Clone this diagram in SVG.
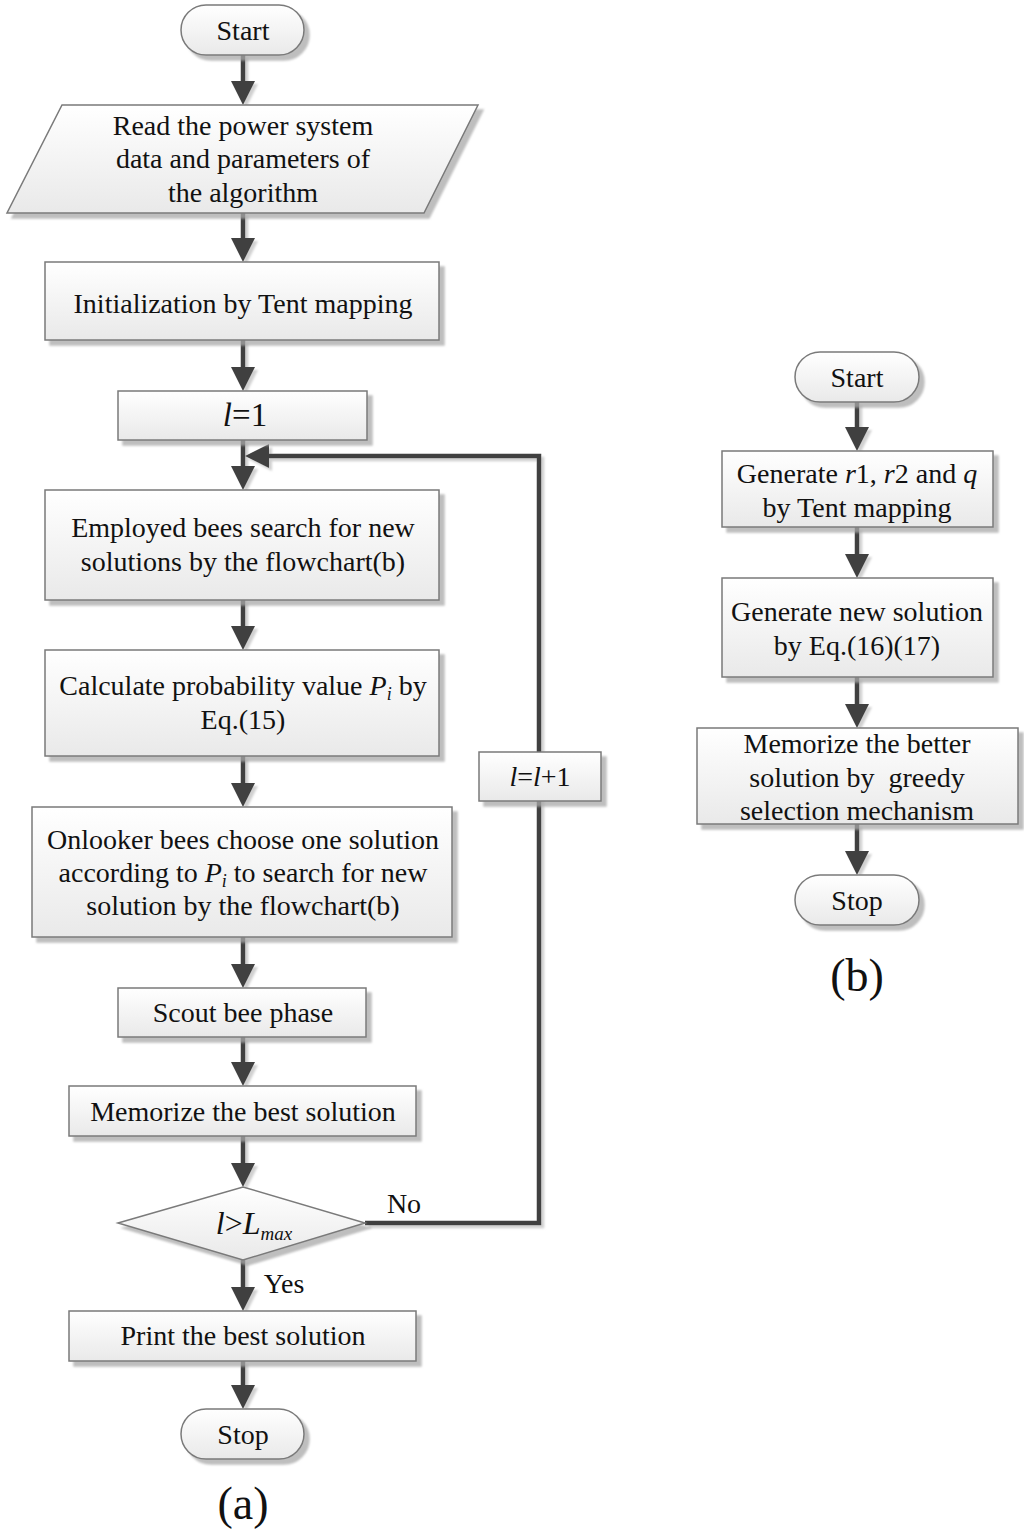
<svg xmlns="http://www.w3.org/2000/svg" width="1024" height="1530" viewBox="0 0 1024 1530">
<defs>
<linearGradient id="g" x1="0" y1="0" x2="0" y2="1">
<stop offset="0" stop-color="#ffffff"/>
<stop offset="1" stop-color="#e9e9e9"/>
</linearGradient>
<filter id="sh" x="-10%" y="-10%" width="130%" height="140%">
<feDropShadow dx="5" dy="5" stdDeviation="1.2" flood-color="#a8a8a8" flood-opacity="0.75"/>
</filter>
<filter id="lsh" x="-10%" y="-10%" width="130%" height="130%">
<feDropShadow dx="3" dy="3" stdDeviation="1" flood-color="#b0b0b0" flood-opacity="0.6"/>
</filter>
<marker id="ah" markerUnits="userSpaceOnUse" markerWidth="26" markerHeight="26" refX="4" refY="12" orient="auto">
<path d="M0,0 L24,12 L0,24 z" fill="#404040"/>
</marker>
</defs>
<style>
.s{fill:url(#g);stroke:#7a7a7a;stroke-width:1.5;filter:url(#sh)}
.t{font-family:"Liberation Serif","Times New Roman",serif;font-size:28px;fill:#111;text-anchor:middle}
.c{fill:none;stroke:#404040;stroke-width:4.5;marker-end:url(#ah)}
.i{font-style:italic}
.cap{font-family:"Liberation Serif","Times New Roman",serif;font-size:46px;fill:#111;text-anchor:middle}
</style>
<rect width="1024" height="1530" fill="#ffffff"/>
<g id="connectors" filter="url(#lsh)">
<line class="c" x1="243" y1="55" x2="243" y2="85"/>
<line class="c" x1="243" y1="213" x2="243" y2="242"/>
<line class="c" x1="243" y1="340" x2="243" y2="371"/>
<line class="c" x1="243" y1="440" x2="243" y2="470"/>
<line class="c" x1="243" y1="600" x2="243" y2="630"/>
<line class="c" x1="243" y1="756" x2="243" y2="787"/>
<line class="c" x1="243" y1="937" x2="243" y2="968"/>
<line class="c" x1="243" y1="1037" x2="243" y2="1066"/>
<line class="c" x1="243" y1="1136" x2="243" y2="1167"/>
<line class="c" x1="243" y1="1260" x2="243" y2="1291"/>
<line class="c" x1="243" y1="1361" x2="243" y2="1389"/>
<path class="c" d="M365,1223 H539 V456 H265"/>
<line class="c" x1="857" y1="402" x2="857" y2="431"/>
<line class="c" x1="857" y1="527" x2="857" y2="558"/>
<line class="c" x1="857" y1="677" x2="857" y2="708"/>
<line class="c" x1="857" y1="824" x2="857" y2="855"/>
</g>
<g id="start-a">
<rect class="s" x="181" y="5" width="123" height="50" rx="25" ry="25"/>
<text class="t" x="243" y="40">Start</text>
</g>
<g id="read">
<polygon class="s" points="62,105 478,105 424,213 7,213"/>
<text class="t" x="243" y="135">Read the power system</text>
<text class="t" x="243" y="168">data and parameters of</text>
<text class="t" x="243" y="202">the algorithm</text>
</g>
<g id="init">
<rect class="s" x="45" y="262" width="394" height="78"/>
<text class="t" x="243" y="313">Initialization by Tent mapping</text>
</g>
<g id="l1">
<rect class="s" x="118" y="391" width="249" height="49"/>
<text class="t" x="245" y="426" style="font-size:33px"><tspan class="i">l</tspan>=1</text>
</g>
<g id="employed">
<rect class="s" x="45" y="490" width="394" height="110"/>
<text class="t" x="243" y="537">Employed bees search for new</text>
<text class="t" x="243" y="571">solutions by the flowchart(b)</text>
</g>
<g id="calc">
<rect class="s" x="45" y="650" width="394" height="106"/>
<text class="t" x="243" y="695">Calculate probability value <tspan class="i">P</tspan><tspan class="i" style="font-size:18px" dy="5">i</tspan><tspan dy="-5"> by</tspan></text>
<text class="t" x="243" y="729">Eq.(15)</text>
</g>
<g id="onlooker">
<rect class="s" x="32" y="807" width="420" height="130"/>
<text class="t" x="243" y="849">Onlooker bees choose one solution</text>
<text class="t" x="243" y="882">according to <tspan class="i">P</tspan><tspan class="i" style="font-size:18px" dy="5">i</tspan><tspan dy="-5"> to search for new</tspan></text>
<text class="t" x="243" y="915">solution by the flowchart(b)</text>
</g>
<g id="scout">
<rect class="s" x="118" y="988" width="248" height="49"/>
<text class="t" x="243" y="1022">Scout bee phase</text>
</g>
<g id="memorize-best">
<rect class="s" x="69" y="1086" width="347" height="50"/>
<text class="t" x="243" y="1121">Memorize the best solution</text>
</g>
<g id="decision">
<polygon class="s" points="118,1223 243,1187 365,1223 243,1260"/>
<text class="t" x="254" y="1234" style="font-size:32px"><tspan class="i">l</tspan>&gt;<tspan class="i">L</tspan><tspan class="i" style="font-size:19px" dy="6">max</tspan></text>
<text class="t" x="404" y="1213">No</text>
<text class="t" x="284" y="1293">Yes</text>
</g>
<g id="incr">
<rect class="s" x="479" y="752" width="122" height="49"/>
<text class="t" x="540" y="786"><tspan class="i">l</tspan>=<tspan class="i">l</tspan>+1</text>
</g>
<g id="print">
<rect class="s" x="69" y="1311" width="347" height="50"/>
<text class="t" x="243" y="1345">Print the best solution</text>
</g>
<g id="stop-a">
<rect class="s" x="181" y="1409" width="123" height="50" rx="25" ry="25"/>
<text class="t" x="243" y="1444">Stop</text>
</g>
<text class="cap" x="243" y="1519">(a)</text>
<g id="start-b">
<rect class="s" x="795" y="352" width="124" height="50" rx="25" ry="25"/>
<text class="t" x="857" y="387">Start</text>
</g>
<g id="gen-r">
<rect class="s" x="722" y="451" width="271" height="76"/>
<text class="t" x="857" y="483">Generate <tspan class="i">r</tspan>1, <tspan class="i">r</tspan>2 and <tspan class="i">q</tspan></text>
<text class="t" x="857" y="517">by Tent mapping</text>
</g>
<g id="gen-new">
<rect class="s" x="722" y="578" width="271" height="99"/>
<text class="t" x="857" y="621">Generate new solution</text>
<text class="t" x="857" y="655">by Eq.(16)(17)</text>
</g>
<g id="memorize-better">
<rect class="s" x="697" y="728" width="321" height="96"/>
<text class="t" x="857" y="753">Memorize the better</text>
<text class="t" x="857" y="787" xml:space="preserve">solution by  greedy</text>
<text class="t" x="857" y="820">selection mechanism</text>
</g>
<g id="stop-b">
<rect class="s" x="795" y="875" width="124" height="50" rx="25" ry="25"/>
<text class="t" x="857" y="910">Stop</text>
</g>
<text class="cap" x="857" y="991">(b)</text>
</svg>
